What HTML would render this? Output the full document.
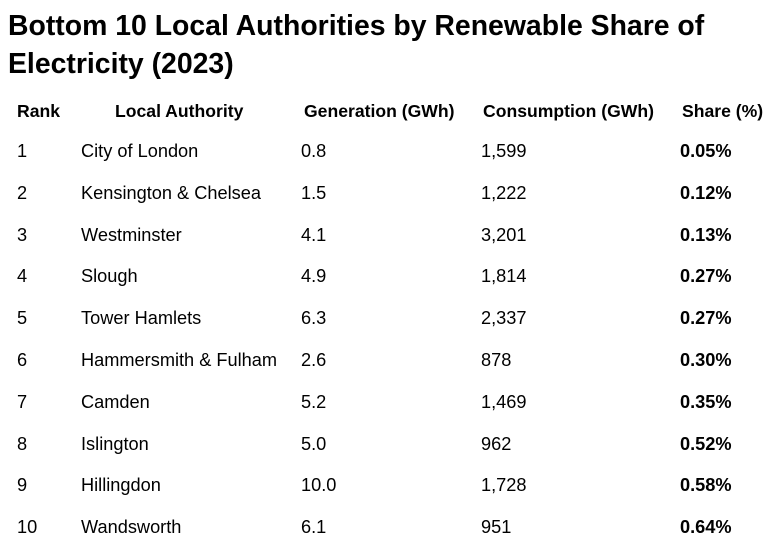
<!DOCTYPE html>
<html><head><style>
body{margin:0;width:771px;height:552px;background:#fff;font-family:"Liberation Sans",Arial,sans-serif;color:#000;position:relative;overflow:hidden}
.t{position:absolute;left:8px;top:7px;font-size:28.4px;font-weight:bold;line-height:38px;margin:0}
.c{position:absolute;font-size:18.2px;line-height:20px;white-space:nowrap}
.h{font-weight:bold}
</style></head><body>
<div class="t">Bottom 10 Local Authorities by Renewable Share of<br>Electricity (2023)</div>
<div id="g"></div>
<script>
var hdr=[["Rank",17],["Local Authority",115],["Generation (GWh)",304],["Consumption (GWh)",483],["Share (%)",682]];
var rows=[["1","City of London","0.8","1,599","0.05%"],["2","Kensington &amp; Chelsea","1.5","1,222","0.12%"],["3","Westminster","4.1","3,201","0.13%"],["4","Slough","4.9","1,814","0.27%"],["5","Tower Hamlets","6.3","2,337","0.27%"],["6","Hammersmith &amp; Fulham","2.6","878","0.30%"],["7","Camden","5.2","1,469","0.35%"],["8","Islington","5.0","962","0.52%"],["9","Hillingdon","10.0","1,728","0.58%"],["10","Wandsworth","6.1","951","0.64%"]];
var xs=[17,81,301,481,680],h="";
hdr.forEach(function(a){h+='<div class="c h" style="left:'+a[1]+'px;top:101px;font-size:17.6px">'+a[0]+'</div>';});
rows.forEach(function(r,i){var y=141+i*41.8;r.forEach(function(v,j){h+='<div class="c'+(j==4?' h':'')+'" style="left:'+xs[j]+'px;top:'+y+'px">'+v+'</div>';});});
document.getElementById('g').innerHTML=h;
</script>
</body></html>
